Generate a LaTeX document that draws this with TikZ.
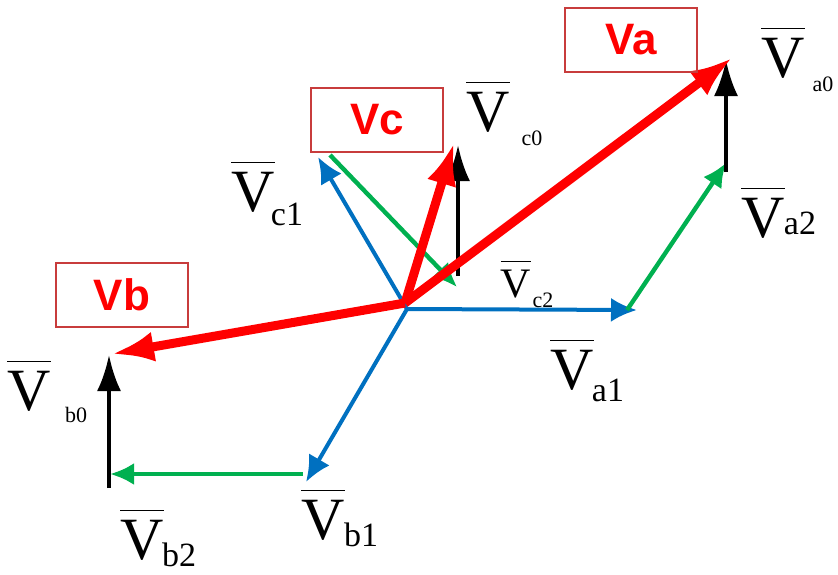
\documentclass[tikz,border=0pt]{standalone}
\usepackage{fontspec}
\setmainfont{Liberation Serif}
\newfontfamily\arialfont{Liberation Sans}
\usetikzlibrary{positioning, arrows.meta}

\definecolor{vred}{RGB}{255,0,0}
\definecolor{vblue}{RGB}{0,112,192}
\definecolor{vgreen}{RGB}{0,176,80}
\definecolor{boxred}{RGB}{200,60,60}

\newcommand{\Vbar}{$\overline{\rule{0pt}{0.78em}\hbox{V}}$}

\begin{document}
\begin{tikzpicture}[x=0.5pt, y=-0.5pt,
    redvec/.style={vred, line width=4.5pt, -{Latex[length=21pt,width=15pt]}},
    bluevec/.style={vblue, line width=2pt, -{Latex[length=13pt,width=12pt]}},
    greenvec/.style={vgreen, line width=2.2pt, -{Latex[length=12pt,width=11pt]}},
    blackvec/.style={black, line width=2pt, -{Latex[length=18pt,width=12pt]}},
    tagbox/.style={draw=boxred, line width=0.9pt, minimum width=66pt, minimum height=32pt,
        text=vred, font=\arialfont\bfseries\fontsize{22}{22}\selectfont},
    bigV/.style={inner sep=0pt, font=\fontsize{30}{30}\selectfont},
    midV/.style={inner sep=0pt, font=\fontsize{21}{21}\selectfont},
    subbig/.style={inner sep=0pt, font=\fontsize{17}{17}\selectfont},
    subsmall/.style={inner sep=0pt, font=\fontsize{11}{11}\selectfont},
    subtiny/.style={inner sep=0pt, font=\fontsize{11}{11}\selectfont}]
    \useasboundingbox (0,0) rectangle (838,574);

    % Points
    \coordinate (O) at (405,303);
    \coordinate (Ob) at (407,309);
    \coordinate (a1) at (637,310);
    \coordinate (a1s) at (627,310);
    \coordinate (a2) at (726,163);
    \coordinate (a2s) at (726,172);
    \coordinate (a0) at (726,60);
    \coordinate (Va) at (732,58);
    \coordinate (b1) at (306,482);
    \coordinate (b1s) at (303,474);
    \coordinate (b2) at (110,474);
    \coordinate (b2s) at (109,488);
    \coordinate (b0) at (109,355);
    \coordinate (Vb) at (112,354);
    \coordinate (c1) at (318,157);
    \coordinate (c1s) at (330,155);
    \coordinate (c2) at (457,287);
    \coordinate (c2s) at (458,276);
    \coordinate (c0) at (458,145);
    \coordinate (Vc) at (454,143);

    % Directe
    \draw[bluevec] (Ob) -- (a1);
    \draw[bluevec] (Ob) -- (b1);
    \draw[bluevec] (Ob) -- (c1);

    % Inverse
    \draw[greenvec] (a1s) -- (a2);
    \draw[greenvec] (b1s) -- (b2);
    \draw[greenvec] (c1s) -- (c2);

    % Homopolaire
    \draw[blackvec] (a2s) -- (a0);
    \draw[blackvec] (b2s) -- (b0);
    \draw[blackvec] (c2s) -- (c0);

    % Resultantes
    \draw[redvec] (O) -- (Va);
    \draw[redvec] (O) -- (Vb);
    \draw[redvec] (O) -- (Vc);

    % Etiquettes
    \node[tagbox] (tagA) at (631,40) {Va};
    \node[tagbox] (tagB) at (122,295) {Vb};
    \node[tagbox] (tagC) at (377,120) {Vc};

    \node[bigV] (la0) at (783,53) {\Vbar};
    \node[subsmall] (sa0) at (823,84) {a0};
    \node[bigV] (la2) at (763,213) {\Vbar};
    \node[subbig] (sa2) at (800,223) {a2};
    \node[bigV] (la1) at (572,365) {\Vbar};
    \node[subbig] (sa1) at (608,390) {a1};

    \node[bigV] (lb0) at (29,386) {\Vbar};
    \node[subsmall] (sb0) at (76,415) {b0};
    \node[bigV] (lb1) at (323,515) {\Vbar};
    \node[subbig] (sb1) at (361,535) {b1};
    \node[bigV] (lb2) at (142,535) {\Vbar};
    \node[subbig] (sb2) at (179,555) {b2};

    \node[bigV] (lc0) at (488,107) {\Vbar};
    \node[subsmall] (sc0) at (532,138) {c0};
    \node[bigV] (lc1) at (253,187) {\Vbar};
    \node[subbig] (sc1) at (287,214) {c1};
    \node[midV] (lc2) at (516,279) {\Vbar};
    \node[subtiny] (sc2) at (543,300) {c2};
\end{tikzpicture}
\end{document}
